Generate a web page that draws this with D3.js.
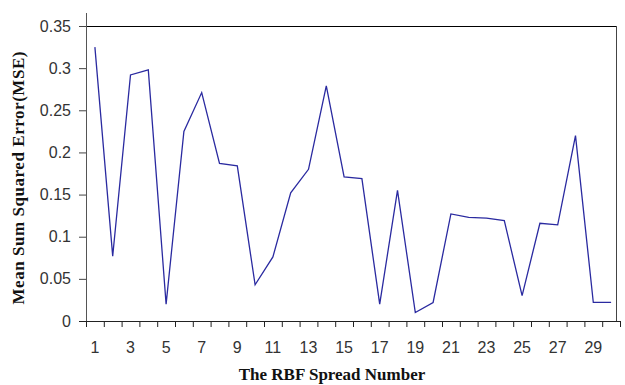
<!DOCTYPE html>
<html><head><meta charset="utf-8">
<script src="https://cdn.jsdelivr.net/npm/d3@7"></script>
<style>body{margin:0;background:#fff}svg{display:block}</style>
</head><body>
<svg id="c" width="625" height="385"></svg>
<script>
const spread = d3.range(1, 31);
const mse = [0.325, 0.077, 0.292, 0.298, 0.020, 0.225, 0.271, 0.187, 0.184, 0.043,
             0.076, 0.152, 0.180, 0.279, 0.171, 0.169, 0.020, 0.155, 0.010, 0.022,
             0.127, 0.123, 0.122, 0.119, 0.030, 0.116, 0.114, 0.220, 0.022, 0.022];
const yTicks = [0, 0.05, 0.1, 0.15, 0.2, 0.25, 0.3, 0.35];
const yTickLabels = ["0", "0.05", "0.1", "0.15", "0.2", "0.25", "0.3", "0.35"];
const xTickLabels = spread.filter(d => d % 2 === 1);

const svg = d3.select("#c");
const L = 86, R = 620, T = 26, B = 321;
const x = d3.scaleLinear().domain([0.5, 30.5]).range([L, R]);
const y = d3.scaleLinear().domain([0, 0.35]).range([B, T]);

// plot frame: top and right lines
svg.append("line").attr("x1", L).attr("x2", 616).attr("y1", y(0.35)+0.5).attr("y2", y(0.35)+0.5)
  .attr("stroke", "#000").attr("stroke-width", 1);
svg.append("line").attr("x1", 616.5).attr("x2", 616.5).attr("y1", y(0.35)).attr("y2", B)
  .attr("stroke", "#444").attr("stroke-width", 1);

// y axis
const ya = svg.append("g").attr("transform", `translate(${L},0)`)
  .call(d3.axisLeft(y).tickValues(yTicks).tickSize(7).tickPadding(8)
        .tickFormat((d, i) => yTickLabels[i]));
ya.select(".domain").remove();
ya.selectAll(".tick line").attr("stroke", "#444");
ya.selectAll("text").attr("font-family", "Liberation Sans, Arial, sans-serif")
  .attr("font-size", 16).attr("fill", "#333");
svg.append("line").attr("x1", L+0.5).attr("x2", L+0.5).attr("y1", 13).attr("y2", B)
  .attr("stroke", "#555").attr("stroke-width", 1);

// x axis
const xa = svg.append("g").attr("transform", `translate(0,${B})`)
  .call(d3.axisBottom(x).tickValues(d3.range(0.5, 31, 1)).tickSize(6).tickFormat(""));
xa.select(".domain").remove();
xa.selectAll(".tick line").attr("stroke", "#222");
svg.append("line").attr("x1", 79).attr("x2", R).attr("y1", B+0.5).attr("y2", B+0.5)
  .attr("stroke", "#222").attr("stroke-width", 1);
svg.append("g").selectAll("text").data(xTickLabels).join("text")
  .attr("x", d => x(d)).attr("y", 353).attr("text-anchor", "middle")
  .attr("font-family", "Liberation Sans, Arial, sans-serif").attr("font-size", 16)
  .attr("fill", "#333").text(d => d);

// line
const line = d3.line().x((d, i) => x(spread[i])).y(d => y(d));
svg.append("path").datum(mse).attr("d", line).attr("fill", "none")
  .attr("stroke", "#2a2aa0").attr("stroke-width", 1.3).attr("stroke-linejoin", "miter");

// titles
svg.append("text").attr("x", 332).attr("y", 380).attr("text-anchor", "middle")
  .attr("font-family", "Liberation Serif, Times New Roman, serif").attr("font-weight", "bold")
  .attr("font-size", 17).attr("fill", "#111").text("The RBF Spread Number");
svg.append("text").attr("transform", "translate(24,178) rotate(-90)").attr("text-anchor", "middle")
  .attr("font-family", "Liberation Serif, Times New Roman, serif").attr("font-weight", "bold")
  .attr("font-size", 17).attr("textLength", 253).attr("lengthAdjust", "spacing")
  .attr("fill", "#111").text("Mean Sum Squared Error(MSE)");
</script>
</body></html>
